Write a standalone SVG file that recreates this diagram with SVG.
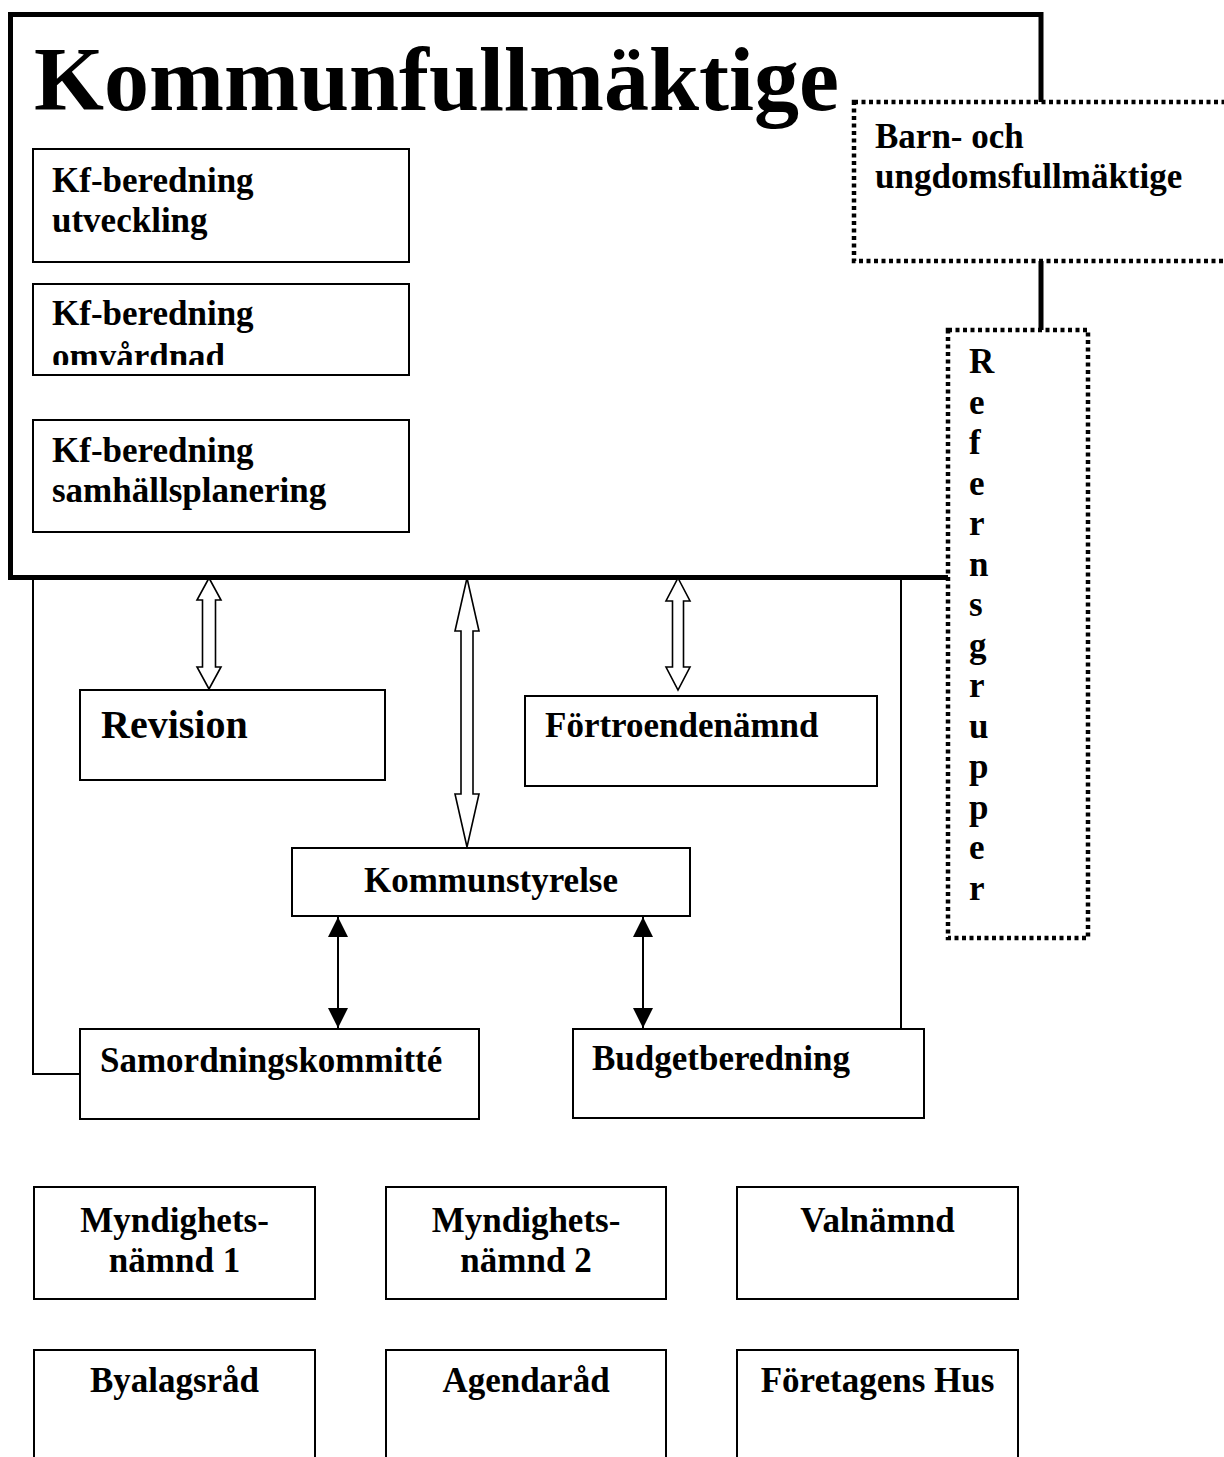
<svg xmlns="http://www.w3.org/2000/svg" width="1224" height="1457" viewBox="0 0 1224 1457">
  <style>
    text { font-family: "Liberation Serif", "Times New Roman", serif; font-weight: bold; fill: #000; }
    .t35 { font-size: 35px; }
    .t40 { font-size: 40px; }
    .title { font-size: 90px; }
    .mid { text-anchor: middle; }
    .box { fill: #fff; stroke: #000; stroke-width: 2; }
    .frame { fill: none; stroke: #000; stroke-width: 5; }
    .dotted { fill: #fff; stroke: #000; stroke-width: 4.5; stroke-dasharray: 4 3.5; }
    .wire { fill: none; stroke: #000; stroke-width: 2; }
    .hollow { fill: #fff; stroke: #000; stroke-width: 1.6; stroke-linejoin: miter; }
    .solid { stroke: #000; stroke-width: 2; marker-start: url(#head-start); marker-end: url(#head-end); }
  </style>
  <defs>
    <marker id="head-end" markerUnits="userSpaceOnUse" markerWidth="20" markerHeight="22" refX="20" refY="10" orient="auto">
      <path d="M0,0 L20,10 L0,20 z" fill="#000"/>
    </marker>
    <marker id="head-start" markerUnits="userSpaceOnUse" markerWidth="20" markerHeight="22" refX="0" refY="10" orient="auto">
      <path d="M20,0 L0,10 L20,20 z" fill="#000"/>
    </marker>
    <clipPath id="clip-omv">
      <rect x="34" y="285" width="374" height="80"/>
    </clipPath>
  </defs>

  <rect width="1224" height="1457" fill="#fff"/>

  <!-- Kommunfullmäktige frame with its preparatory committees -->
  <g id="kommunfullmaktige">
    <rect class="frame" x="10.5" y="14.5" width="1030.5" height="563"/>
    <text class="title" x="34" y="110">Kommunfullmäktige</text>
  </g>
  <g id="kf-utveckling">
    <rect class="box" x="33" y="149" width="376" height="113"/>
    <text class="t35" x="52" y="192">Kf-beredning</text>
    <text class="t35" x="52" y="232">utveckling</text>
  </g>
  <g id="kf-omvardnad">
    <rect class="box" x="33" y="284" width="376" height="91"/>
    <g clip-path="url(#clip-omv)">
      <text class="t35" x="52" y="325">Kf-beredning</text>
      <text class="t35" x="52" y="368">omvårdnad</text>
    </g>
  </g>
  <g id="kf-samhallsplanering">
    <rect class="box" x="33" y="420" width="376" height="112"/>
    <text class="t35" x="52" y="462">Kf-beredning</text>
    <text class="t35" x="52" y="502">samhällsplanering</text>
  </g>

  <!-- Connectors -->
  <g id="connectors">
    <polyline class="wire" points="33,580 33,1074 80,1074"/>
    <line class="wire" x1="901" y1="580" x2="901" y2="1029"/>
    <polygon class="hollow" points="209,578 221,600 215.5,600 215.5,667 221,667 209,689 197,667 202.5,667 202.5,600 197,600"/>
    <polygon class="hollow" points="467,578 479,631 473,631 473,794 479,794 467,847 455,794 461,794 461,631 455,631"/>
    <polygon class="hollow" points="678,578 690,601 683.5,601 683.5,667 690,667 678,690 666,667 672.5,667 672.5,601 666,601"/>
    <line class="solid" x1="338" y1="917" x2="338" y2="1028"/>
    <line class="solid" x1="643" y1="917" x2="643" y2="1028"/>
  </g>

  <!-- Youth council and reference groups -->
  <g id="barn-ungdom">
    <rect class="dotted" x="854" y="102" width="390" height="159"/>
    <text class="t35" x="875" y="148">Barn- och</text>
    <text class="t35" x="875" y="188">ungdomsfullmäktige</text>
  </g>
  <g id="referensgrupper">
    <rect class="dotted" x="948" y="330" width="140" height="608"/>
    <text class="t35" x="969" y="373">R</text>
    <text class="t35" x="969" y="413.5">e</text>
    <text class="t35" x="969" y="454">f</text>
    <text class="t35" x="969" y="494.5">e</text>
    <text class="t35" x="969" y="535">r</text>
    <text class="t35" x="969" y="575.5">n</text>
    <text class="t35" x="969" y="616">s</text>
    <text class="t35" x="969" y="656.5">g</text>
    <text class="t35" x="969" y="697">r</text>
    <text class="t35" x="969" y="737.5">u</text>
    <text class="t35" x="969" y="778">p</text>
    <text class="t35" x="969" y="818.5">p</text>
    <text class="t35" x="969" y="859">e</text>
    <text class="t35" x="969" y="899.5">r</text>
  </g>

  <!-- Boards under the council -->
  <g id="revision">
    <rect class="box" x="80" y="690" width="305" height="90"/>
    <text class="t40" x="101" y="738">Revision</text>
  </g>
  <g id="fortroendenamnd">
    <rect class="box" x="525" y="696" width="352" height="90"/>
    <text class="t35" x="545" y="737">Förtroendenämnd</text>
  </g>
  <g id="kommunstyrelse">
    <rect class="box" x="292" y="848" width="398" height="68"/>
    <text class="t35 mid" x="491" y="892">Kommunstyrelse</text>
  </g>
  <g id="samordningskommitte">
    <rect class="box" x="80" y="1029" width="399" height="90"/>
    <text class="t35" x="100" y="1072">Samordningskommitté</text>
  </g>
  <g id="budgetberedning">
    <rect class="box" x="573" y="1029" width="351" height="89"/>
    <text class="t35" x="592" y="1070">Budgetberedning</text>
  </g>

  <!-- Other bodies -->
  <g id="myndighetsnamnd-1">
    <rect class="box" x="34" y="1187" width="281" height="112"/>
    <text class="t35 mid" x="174.5" y="1232">Myndighets-</text>
    <text class="t35 mid" x="174.5" y="1272">nämnd 1</text>
  </g>
  <g id="myndighetsnamnd-2">
    <rect class="box" x="386" y="1187" width="280" height="112"/>
    <text class="t35 mid" x="526" y="1232">Myndighets-</text>
    <text class="t35 mid" x="526" y="1272">nämnd 2</text>
  </g>
  <g id="valnamnd">
    <rect class="box" x="737" y="1187" width="281" height="112"/>
    <text class="t35 mid" x="877.5" y="1232">Valnämnd</text>
  </g>
  <g id="byalagsrad">
    <rect class="box" x="34" y="1350" width="281" height="130"/>
    <text class="t35 mid" x="174.5" y="1392">Byalagsråd</text>
  </g>
  <g id="agendarad">
    <rect class="box" x="386" y="1350" width="280" height="130"/>
    <text class="t35 mid" x="526" y="1392">Agendaråd</text>
  </g>
  <g id="foretagens-hus">
    <rect class="box" x="737" y="1350" width="281" height="130"/>
    <text class="t35 mid" x="877.5" y="1392">Företagens Hus</text>
  </g>
</svg>
